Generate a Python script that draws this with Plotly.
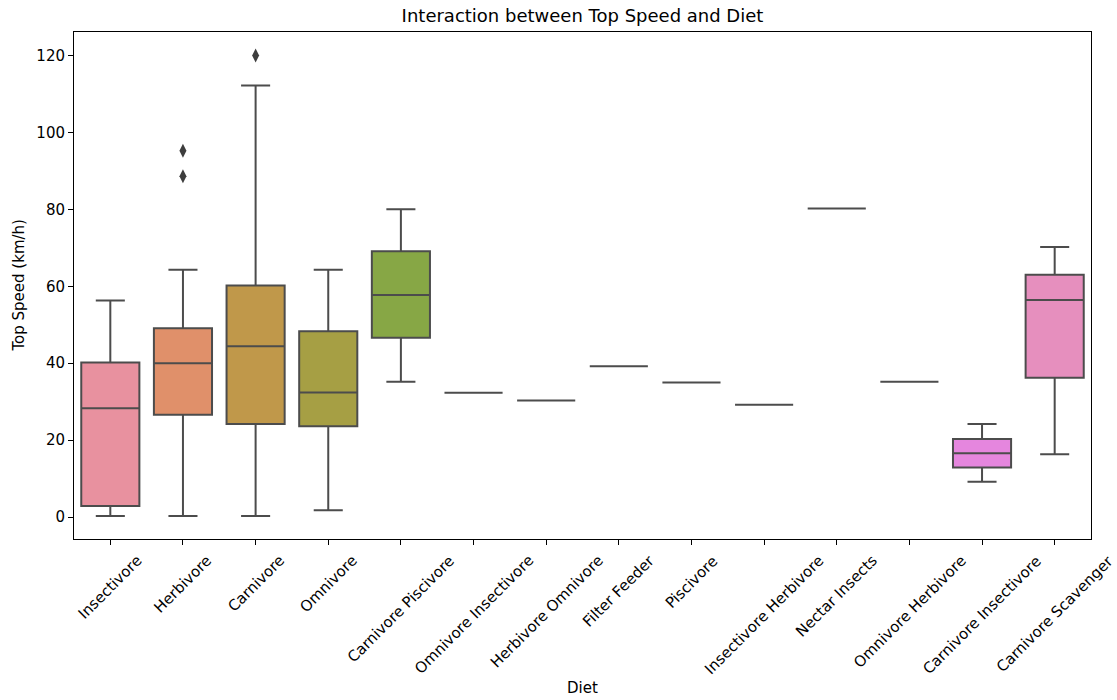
import plotly.graph_objects as go

categories = ["Insectivore", "Herbivore", "Carnivore", "Omnivore", "Carnivore Piscivore",
              "Omnivore Insectivore", "Herbivore Omnivore", "Filter Feeder", "Piscivore",
              "Insectivore Herbivore", "Nectar Insects", "Omnivore Herbivore",
              "Carnivore Insectivore", "Carnivore Scavenger"]
lower_whisker = [0.3, 0.3, 0.3, 1.8, 35.2, 32.3, 30.3, 39.2, 35.0, 29.2, 80.2, 35.2, 9.2, 16.3]
q1 = [2.9, 26.6, 24.2, 23.6, 46.6, 32.3, 30.3, 39.2, 35.0, 29.2, 80.2, 35.2, 12.9, 36.2]
median = [28.3, 40.0, 44.4, 32.4, 57.7, 32.3, 30.3, 39.2, 35.0, 29.2, 80.2, 35.2, 16.6, 56.4]
q3 = [40.2, 49.1, 60.2, 48.3, 69.1, 32.3, 30.3, 39.2, 35.0, 29.2, 80.2, 35.2, 20.3, 63.0]
upper_whisker = [56.3, 64.3, 112.2, 64.3, 80.0, 32.3, 30.3, 39.2, 35.0, 29.2, 80.2, 35.2, 24.2, 70.2]
colors = ["#e8919f", "#e0906a", "#c0984a", "#a69f44", "#87a745", "#6aac7c", "#6bab9c",
          "#6daab0", "#6fa8c6", "#8aa2e2", "#b197e6", "#d78be3", "#e586de", "#e68fbe"]
outlier_cats = ["Herbivore", "Herbivore", "Carnivore"]
outlier_vals = [95.2, 88.6, 120.0]

line_col = "#4c4c4c"
font_family = "DejaVu Sans, Arial, sans-serif"
tick_size = 15

fig = go.Figure()
for i, c in enumerate(categories):
    fig.add_trace(go.Box(
        x=[c], q1=[q1[i]], median=[median[i]], q3=[q3[i]],
        lowerfence=[lower_whisker[i]], upperfence=[upper_whisker[i]],
        fillcolor=colors[i], line=dict(color=line_col, width=2),
        width=0.8, whiskerwidth=0.5, boxpoints=False, showlegend=False,
        hoverinfo="skip",
    ))

fig.add_trace(go.Scatter(
    x=outlier_cats, y=outlier_vals, mode="markers",
    marker=dict(symbol="diamond-tall", size=10, color="#3d3d3d",
                line=dict(width=0)),
    showlegend=False, hoverinfo="skip",
))

annotations = []
for c in categories:
    annotations.append(dict(
        x=c, xref="x", y=0, yref="paper", yshift=-10,
        text=c, textangle=-45, showarrow=False,
        xanchor="center", yanchor="top",
        font=dict(family=font_family, size=tick_size, color="#000000"),
    ))
annotations.append(dict(
    x=0.5, xref="paper", y=0, yref="paper", yshift=-149,
    text="Diet", showarrow=False, xanchor="center", yanchor="middle",
    font=dict(family=font_family, size=tick_size, color="#000000"),
))
annotations.append(dict(
    x=0, xref="paper", y=0.5, yref="paper", xshift=-56,
    text="Top Speed (km/h)", textangle=-90, showarrow=False,
    xanchor="center", yanchor="middle",
    font=dict(family=font_family, size=tick_size, color="#000000"),
))

fig.update_layout(
    width=1117, height=700,
    margin=dict(l=74, r=26, t=32, b=161),
    paper_bgcolor="white", plot_bgcolor="white",
    boxmode="overlay",
    title=dict(text="Interaction between Top Speed and Diet", x=0.5, xref="paper",
               xanchor="center", y=1 - 16 / 700, yref="container", yanchor="middle",
               font=dict(family=font_family, size=18, color="#000000")),
    annotations=annotations,
    font=dict(family=font_family, size=tick_size, color="#000000"),
)
fig.update_xaxes(
    type="category", categoryorder="array", categoryarray=categories,
    range=[-0.5, len(categories) - 0.5],
    showticklabels=False, ticks="outside", ticklen=5, tickcolor="#000000", tickwidth=1,
    showline=True, linecolor="#000000", linewidth=1, mirror=True,
    showgrid=False, zeroline=False,
)
fig.update_yaxes(
    range=[-5.7, 126.1], tickvals=[0, 20, 40, 60, 80, 100, 120],
    ticks="outside", ticklen=5, tickcolor="#000000", tickwidth=1,
    tickfont=dict(family=font_family, size=tick_size, color="#000000"),
    showline=True, linecolor="#000000", linewidth=1, mirror=True,
    showgrid=False, zeroline=False,
)

fig.write_html("out.html")
